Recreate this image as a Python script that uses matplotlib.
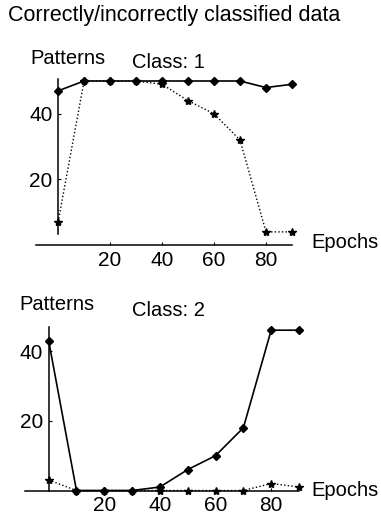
import matplotlib
matplotlib.use('Agg')
import matplotlib.pyplot as plt

plt.rcParams['font.family'] = ['Liberation Sans', 'DejaVu Sans']

# epochs and pattern counts per class
epochs = [0, 10, 20, 30, 40, 50, 60, 70, 80, 90]
class1_correct = [47, 50, 50, 50, 50, 50, 50, 50, 48, 49]
class1_incorrect = [7, 50, 50, 50, 49, 44, 40, 32, 4, 4]
class2_correct = [43, 0, 0, 0, 1, 6, 10, 18, 46, 46]
class2_incorrect = [3, 0, 0, 0, 0, 0, 0, 0, 2, 1]
xticks = [20, 40, 60, 80]
yticks = [20, 40]

W, H = 381, 516
fig = plt.figure(figsize=(W / 100, H / 100), dpi=100)


def panel(left, right, top, bottom, ymax, ybot, solid, dotted):
    # pixel box -> figure fraction
    ax = fig.add_axes([left / W, 1 - bottom / H, (right - left) / W, (bottom - top) / H])
    ax.set_xlim(-8.5, 90)
    ax.set_ylim(0, ymax)
    ax.plot(epochs, solid, color='black', lw=1.2, marker='D', ms=4, clip_on=False)
    ax.plot(epochs, dotted, color='black', lw=1.0, ls=(0, (1, 1.6)), marker='*', ms=6, clip_on=False)
    for s in ['top', 'right']:
        ax.spines[s].set_visible(False)
    ax.spines['left'].set_position(('data', 0))
    ax.spines['left'].set_bounds(ybot, ymax)
    ax.spines['bottom'].set_position(('data', 0))
    for s in ['left', 'bottom']:
        ax.spines[s].set_linewidth(1.1)
    ax.set_xticks(xticks)
    ax.set_yticks(yticks)
    ax.tick_params(direction='in', length=2, labelsize=15, pad=4)
    ax.patch.set_alpha(0)
    return ax


panel(36, 292, 78.7, 245, 50.7, 3.3, class1_correct, class1_incorrect)
panel(25, 299, 326.7, 490.5, 47, 0, class2_correct, class2_incorrect)

fs = 14.5
fig.text(8 / W, 1 - 15 / H, 'Correctly/incorrectly classified data', fontsize=15.5, va='center')
fig.text(30 / W, 1 - 58 / H, 'Patterns', fontsize=fs, va='center')
fig.text(132 / W, 1 - 62 / H, 'Class: 1', fontsize=fs, va='center')
fig.text(311 / W, 1 - 243 / H, 'Epochs', fontsize=fs, va='center')
fig.text(19 / W, 1 - 305 / H, 'Patterns', fontsize=fs, va='center')
fig.text(132 / W, 1 - 310 / H, 'Class: 2', fontsize=fs, va='center')
fig.text(311 / W, 1 - 491 / H, 'Epochs', fontsize=fs, va='center')

fig.savefig('out.png', dpi=100)
